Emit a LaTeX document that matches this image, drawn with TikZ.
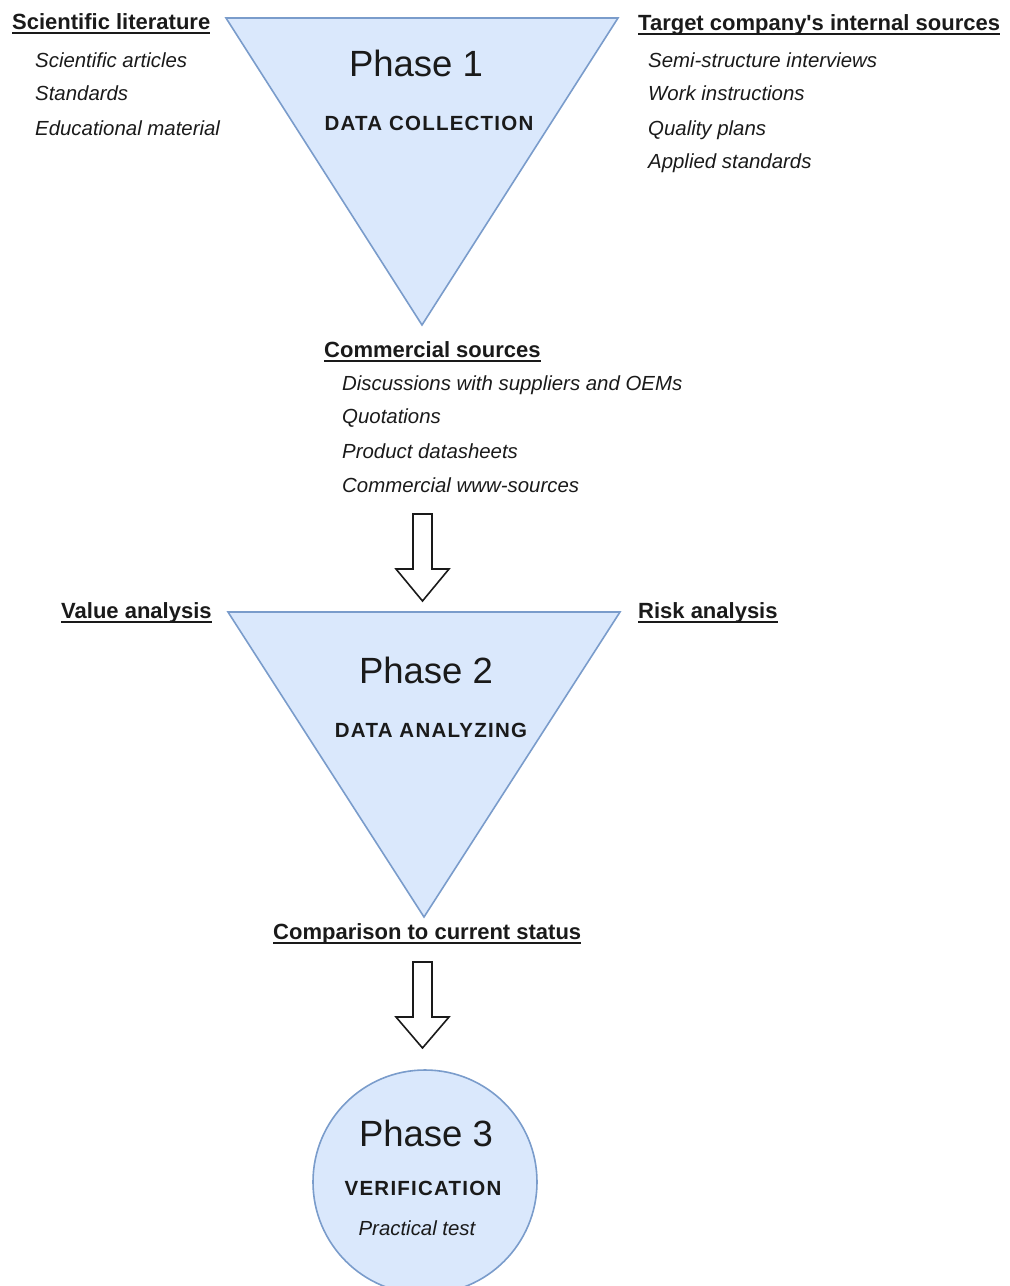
\documentclass[tikz,border=0pt]{standalone}
\usepackage{fontspec}
\setmainfont{Liberation Sans}
\newfontfamily\capsfont[LetterSpace=6]{Liberation Sans}
\definecolor{phasefill}{HTML}{DAE8FC}
\definecolor{phaseline}{HTML}{7A9CCB}
\definecolor{ink}{HTML}{1A1A1A}
\begin{document}
\begin{tikzpicture}[x=1pt,y=-1pt,
  phase/.style={fill=phasefill,draw=phaseline,line width=1.6pt,line join=miter},
  blockarrow/.style={fill=white,draw=ink,line width=1.6pt,line join=miter},
  head/.style={font=\fontsize{22}{26}\selectfont\bfseries,text=ink,anchor=base west,inner sep=0pt},
  item/.style={font=\fontsize{20.4}{24}\selectfont\itshape,text=ink,anchor=base west,inner sep=0pt},
  title/.style={font=\fontsize{36.5}{44}\selectfont,text=ink,anchor=base,inner sep=0pt},
  caption/.style={font=\capsfont\fontsize{20.5}{25}\selectfont\bfseries,text=ink,anchor=base,inner sep=0pt},
  uline/.style={draw=ink,line width=1.4pt}]
\useasboundingbox (0,0) rectangle (1010,1286);

% Phase shapes
\draw[phase] (226,18) -- (618,18) -- (422,325) -- cycle;
\draw[phase] (228,612) -- (620,612) -- (424,917) -- cycle;
\draw[phase] (425,1182) circle (112);

% Block arrows between phases
\draw[blockarrow] (413,514) -- (432,514) -- (432,569) -- (449,569) -- (422.5,601)
  -- (396,569) -- (413,569) -- cycle;
\draw[blockarrow] (413,962) -- (432,962) -- (432,1017) -- (449,1017) -- (422.5,1048)
  -- (396,1017) -- (413,1017) -- cycle;

% Phase 1
\node[title] (p1) at (416,76) {Phase 1};
\node[caption] (p1c) at (429,130) {DATA COLLECTION};

% Scientific literature
\node[head] (sl) at (12,29) {Scientific literature};
\node[item] (sl1) at (35,67) {Scientific articles};
\node[item] (sl2) at (35,100) {Standards};
\node[item] (sl3) at (35,135) {Educational material};

% Internal sources
\node[head] (tc) at (638,30) {Target company\textquotesingle s internal sources};
\node[item] (tc1) at (648,67) {Semi-structure interviews};
\node[item] (tc2) at (648,100) {Work instructions};
\node[item] (tc3) at (648,135) {Quality plans};
\node[item] (tc4) at (648,168) {Applied standards};

% Commercial sources
\node[head] (cs) at (324,357) {Commercial sources};
\node[item] (cs1) at (342,390) {Discussions with suppliers and OEMs};
\node[item] (cs2) at (342,423) {Quotations};
\node[item] (cs3) at (342,458) {Product datasheets};
\node[item] (cs4) at (342,492) {Commercial www-sources};

% Phase 2
\node[title] (p2) at (426,683) {Phase 2};
\node[caption] (p2c) at (431,737) {DATA ANALYZING};
\node[head] (va) at (61,618) {Value analysis};
\node[head] (ra) at (638,618) {Risk analysis};
\node[head] (cc) at (273,939) {Comparison to current status};

% Phase 3
\node[title] (p3) at (426,1146) {Phase 3};
\node[caption] (p3c) at (423,1195) {VERIFICATION};
\node[item,anchor=base] (p3t) at (417,1235) {Practical test};

% Underlined headings
\foreach \n in {sl,tc,cs,va,ra,cc}
  \draw[uline] ([yshift=-4pt]\n.base west) -- ([yshift=-4pt]\n.base east);
\end{tikzpicture}
\end{document}
